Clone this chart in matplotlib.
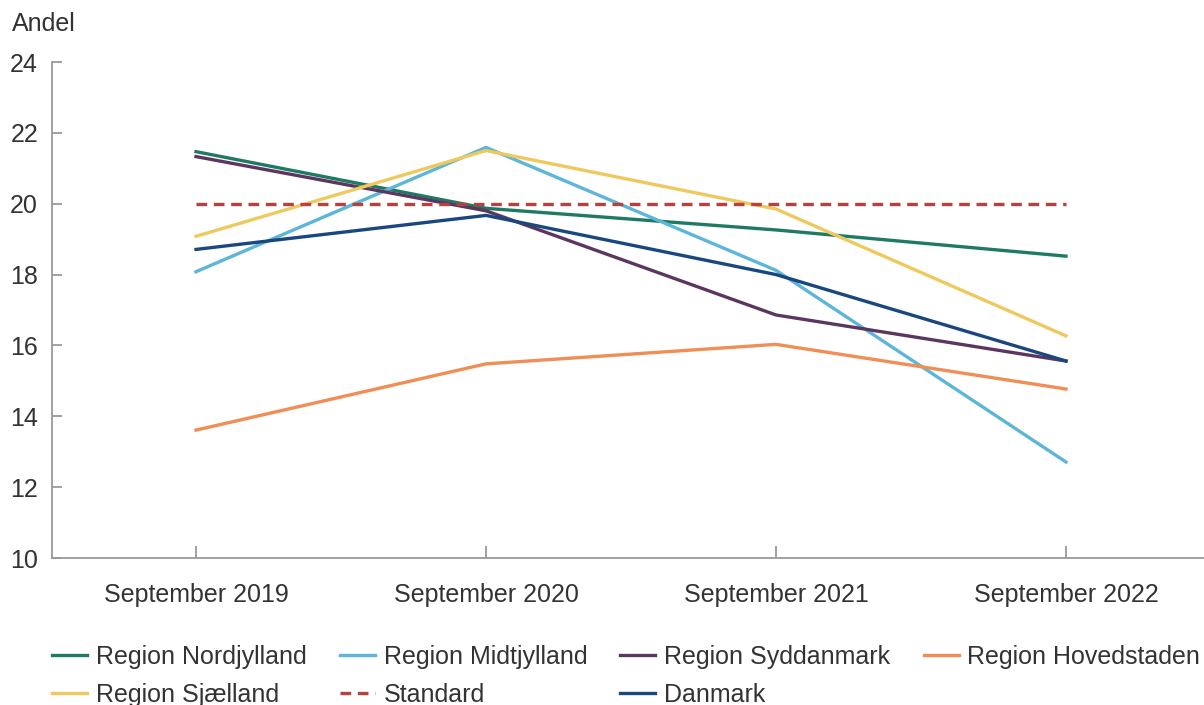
import matplotlib.pyplot as plt

plt.rcParams["font.family"] = ["Liberation Sans", "DejaVu Sans"]

periods = ["September 2019", "September 2020", "September 2021", "September 2022"]

nordjylland = [21.47, 19.87, 19.26, 18.52]
midtjylland = [18.08, 21.59, 18.12, 12.71]
syddanmark  = [21.33, 19.80, 16.86, 15.56]
hovedstaden = [13.61, 15.48, 16.03, 14.77]
sjaelland   = [19.08, 21.50, 19.85, 16.27]
standard    = [20.0, 20.0, 20.0, 20.0]
danmark     = [18.71, 19.67, 18.00, 15.56]

series = [
    ("Region Nordjylland", nordjylland, "#1E7B63", "-"),
    ("Region Midtjylland", midtjylland, "#5DB5D9", "-"),
    ("Region Syddanmark",  syddanmark,  "#5B3660", "-"),
    ("Region Hovedstaden", hovedstaden, "#F08E55", "-"),
    ("Region Sjælland",    sjaelland,   "#EEC95E", "-"),
    ("Standard",           standard,    "#B8403D", (0, (3.2, 2))),
    ("Danmark",            danmark,     "#19477F", "-"),
]

W, H = 1204, 705
fig = plt.figure(figsize=(W / 100, H / 100), dpi=100)
ax = fig.add_axes([52 / W, (H - 558) / H, (W - 52) / W, (558 - 62) / H])

x = list(range(len(periods)))
lines = {}
for name, vals, col, ls in series:
    lines[name], = ax.plot(x, vals, color=col, lw=2.4, ls=ls, label=name)

ax.set_xlim(-0.4966, 3.476)
ax.set_ylim(10, 24)
ax.set_yticks(range(10, 25, 2))
ax.set_xticks(x)
ax.set_xticklabels(periods)

grey = "#9a9a9a"
txt = "#333333"
fs = 18
for s in ["top", "right"]:
    ax.spines[s].set_visible(False)
for s in ["left", "bottom"]:
    ax.spines[s].set_color(grey)
    ax.spines[s].set_linewidth(1.3)
ax.tick_params(axis="y", direction="in", length=7, width=1.3, color=grey,
               labelsize=fs, labelcolor=txt, pad=10)
ax.tick_params(axis="x", direction="in", length=9, width=1.3, color=grey,
               labelsize=fs, labelcolor=txt, pad=18)

fig.text(12 / W, 1 - 24 / H, "Andel", fontsize=fs, color=txt,
         ha="left", va="center")

# legend fills column by column, so order entries to read row by row
order = ["Region Nordjylland", "Region Sjælland", "Region Midtjylland", "Standard",
         "Region Syddanmark", "Danmark", "Region Hovedstaden"]
leg = fig.legend([lines[n] for n in order], order,
                 loc="upper left", bbox_to_anchor=(52 / W, 1 - 645 / H),
                 ncol=4, frameon=False, fontsize=fs, borderpad=0,
                 borderaxespad=0, handlelength=1.4, handletextpad=0.35,
                 columnspacing=1.33, labelspacing=0.55)
for t in leg.get_texts():
    t.set_color(txt)

fig.savefig("out.png", dpi=100)
